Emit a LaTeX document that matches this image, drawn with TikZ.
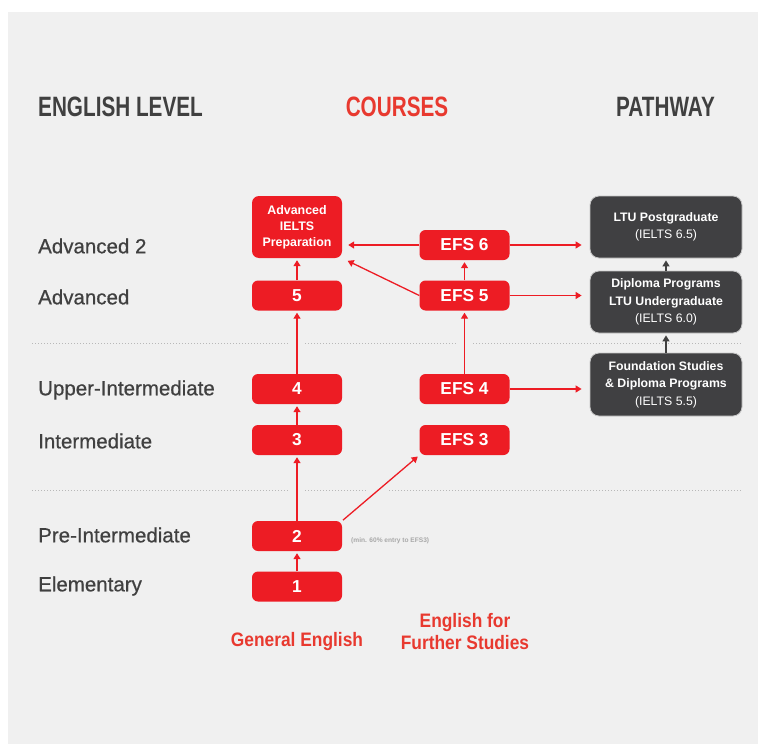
\documentclass[tikz,border=0pt]{standalone}
\usepackage{fontspec}
\setmainfont{Liberation Sans}
\newfontfamily\headfont[FakeStretch=0.74]{Liberation Sans}
\newfontfamily\condfont[FakeStretch=0.89]{Liberation Sans}
\newfontfamily\medfont[FakeBold=0.6]{Liberation Sans}
\usetikzlibrary{arrows.meta}
\definecolor{bgc}{HTML}{F0F0F0}
\definecolor{redc}{HTML}{ED1C24}
\definecolor{redt}{HTML}{E8392F}
\definecolor{darkc}{HTML}{404042}
\definecolor{textc}{HTML}{404040}
\definecolor{dotc}{HTML}{B8B8B8}
\definecolor{notec}{HTML}{A8A8A8}
\definecolor{borderc}{HTML}{C8C8C8}
\pgfdeclarelayer{background}
\pgfsetlayers{background,main}
\tikzset{
  redbox/.style={fill=redc, rounded corners=6pt, minimum width=90pt, minimum height=30pt, inner sep=0pt,
    text=white, font=\bfseries\fontsize{17.3}{20}\selectfont},
  advbox/.style={fill=redc, rounded corners=7pt, minimum width=90pt, minimum height=62pt, inner sep=0pt,
    text=white, align=center, font=\bfseries\fontsize{12.4}{16}\selectfont},
  darkbox/.style={fill=darkc, draw=borderc, line width=0.8pt, rounded corners=9pt, minimum width=152pt,
    minimum height=62pt, inner sep=0pt, text=white, align=center, font=\bfseries\fontsize{12.3}{17.5}\selectfont},
  levellabel/.style={anchor=west, inner sep=0pt, text=textc, font=\medfont\fontsize{20.5}{24}\selectfont},
  header/.style={inner sep=0pt, font=\headfont\bfseries\fontsize{28}{30}\selectfont},
  footlabel/.style={inner sep=0pt, text=redt, align=center, font=\condfont\bfseries\fontsize{19.5}{22}\selectfont},
  rarr/.style={draw=redc, line width=1.3pt, -{Triangle[length=6pt,width=7pt]}},
  darr/.style={draw=textc, line width=1.3pt, -{Triangle[length=6pt,width=7pt]}},
  halo/.style={draw=bgc, line width=14pt},
  dotline/.style={draw=dotc, line width=0.9pt, dash pattern=on 0.9pt off 2.1pt}
}
\begin{document}
\begin{tikzpicture}[x=1pt,y=-1pt]
\useasboundingbox (0,0) rectangle (758,744);

% headers
\node[header, anchor=west, text=textc] (h1) at (38,107) {ENGLISH LEVEL};
\node[header, text=redt] (h2) at (397,107) {COURSES};
\node[header, text=textc] (h3) at (665.5,107) {PATHWAY};

% level labels
\node[levellabel] (l1) at (38,246) {Advanced 2};
\node[levellabel] (l2) at (38,297) {Advanced};
\node[levellabel] (l3) at (38,390) {Upper-Intermediate};
\node[levellabel] (l4) at (38,441) {Intermediate};
\node[levellabel] (l5) at (38,535) {Pre-Intermediate};
\node[levellabel] (l6) at (38,586) {Elementary};

% general english column
\node[advbox] (adv) at (297,227) {Advanced\\IELTS\\Preparation};
\node[redbox] (g5) at (297,295.5) {5};
\node[redbox] (g4) at (297,389) {4};
\node[redbox] (g3) at (297,440) {3};
\node[redbox] (g2) at (297,536) {2};
\node[redbox] (g1) at (297,586.5) {1};

% EFS column
\node[redbox] (efs6) at (464.5,245) {EFS 6};
\node[redbox] (efs5) at (464.5,295.5) {EFS 5};
\node[redbox] (efs4) at (464.5,389) {EFS 4};
\node[redbox] (efs3) at (464.5,440) {EFS 3};

% pathway column
\node[darkbox] (ltu) at (666,227) {LTU Postgraduate\\{\mdseries (IELTS 6.5)}};
\node[darkbox] (dip) at (666,302) {Diploma Programs\\LTU Undergraduate\\{\mdseries (IELTS 6.0)}};
\node[darkbox, minimum height=63pt] (fnd) at (666,384.5) {Foundation Studies\\\& Diploma Programs\\{\mdseries (IELTS 5.5)}};

% note and footer labels
\node[anchor=west, inner sep=0pt, text=notec, font=\bfseries\fontsize{6.6}{8}\selectfont] (note) at (351,541) {(min. 60\% entry to EFS3)};
\node[footlabel] (f1) at (297,641) {General English};
\node[footlabel, anchor=south] (f2) at (465,650) {English for\\Further Studies};

% background, dotted separators with gaps
\begin{pgfonlayer}{background}
\fill[white] (0,0) rectangle (758,744);
\fill[bgc] (8,12) rectangle (758,744);
\draw[dotline] (32,343) -- (742,343);
\draw[dotline] (32,490) -- (742,490);
\draw[halo] (g4.north) -- (g5.south);
\draw[halo] (efs4.north) -- (efs5.south);
\draw[halo] (g2.north) -- (g3.south);
\draw[halo] (g2.north east) -- (efs3.south west);
\end{pgfonlayer}

% general english arrows
\draw[rarr, shorten >=2pt] (g1) -- (g2);
\draw[rarr, shorten >=2pt] (g2) -- (g3);
\draw[rarr, shorten >=2pt] (g3) -- (g4);
\draw[rarr, shorten >=2pt] (g4) -- (g5);
\draw[rarr, shorten >=2pt] (g5) -- (adv);
\draw[rarr, shorten <=1pt, shorten >=2pt] (g2.north east) -- (efs3.south west);

% EFS arrows
\draw[rarr, shorten >=2pt] (efs4) -- (efs5);
\draw[rarr, shorten >=2pt] (efs5) -- (efs6);
\draw[rarr, shorten >=6pt] (efs6) -- (efs6 -| adv.east);
\draw[rarr, shorten >=6pt] (efs5.west) -- (adv.south east);
\draw[rarr, shorten >=8pt] (efs6.east) -- (efs6.east -| ltu.west);
\draw[rarr, shorten >=8pt] (efs5.east) -- (efs5.east -| dip.west);
\draw[rarr, shorten >=8pt] (efs4.east) -- (efs4.east -| fnd.west);

% pathway arrows
\draw[darr, shorten >=2pt] (fnd) -- (dip);
\draw[darr, shorten >=2pt] (dip) -- (ltu);
\end{tikzpicture}
\end{document}
